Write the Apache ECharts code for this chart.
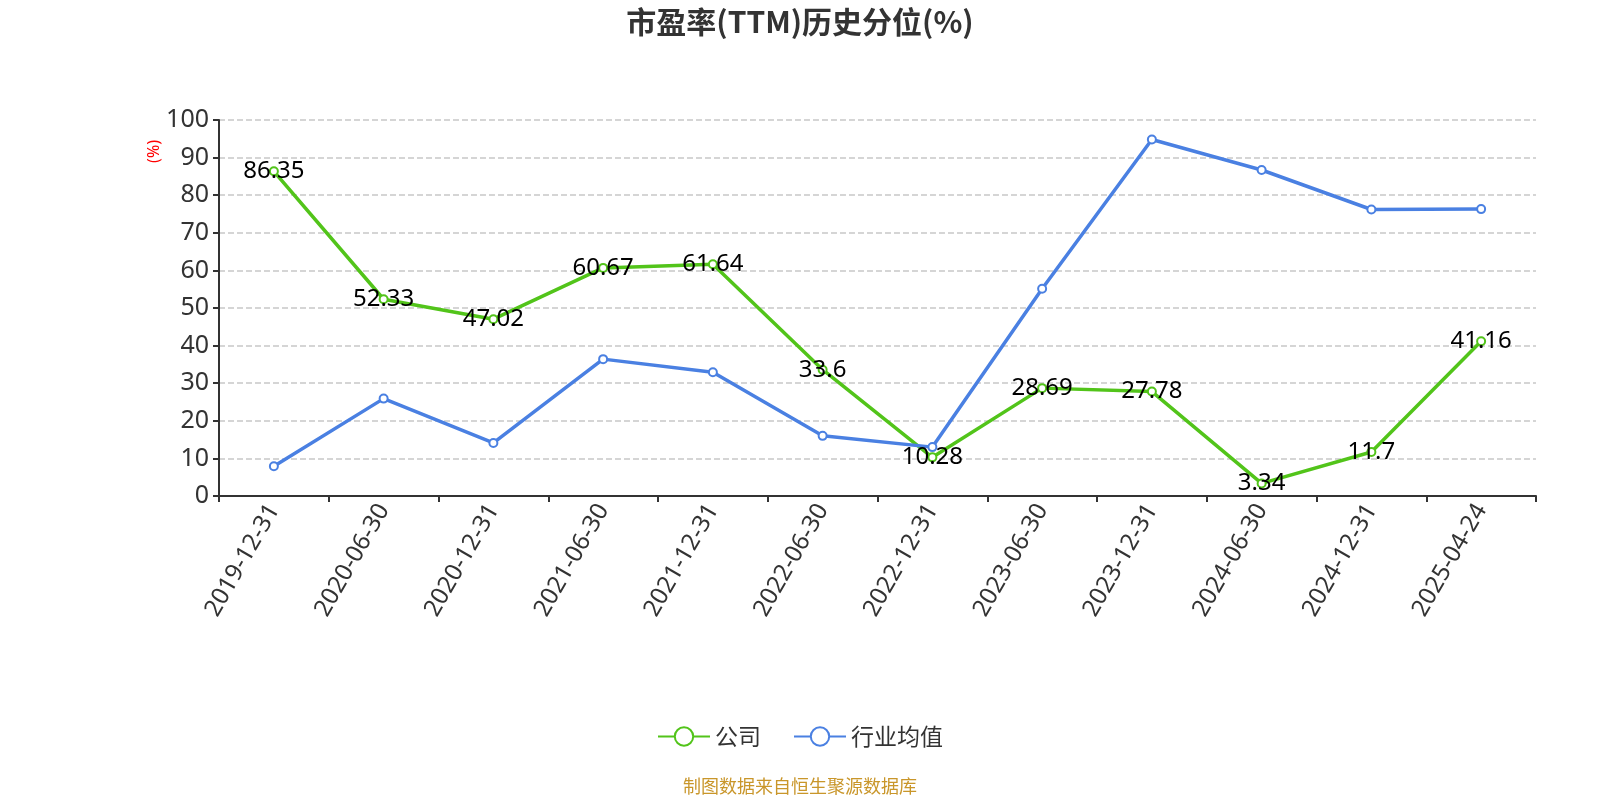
<!DOCTYPE html>
<html><head><meta charset="utf-8">
<script src="https://cdn.jsdelivr.net/npm/echarts@6/dist/echarts.min.js"></script>
<style>html,body{margin:0;padding:0;background:#fff}#c{width:1600px;height:800px}</style>
</head><body><div id="c"></div>
<script>
const categories = ['2019-12-31','2020-06-30','2020-12-31','2021-06-30','2021-12-31','2022-06-30','2022-12-31','2023-06-30','2023-12-31','2024-06-30','2024-12-31','2025-04-24'];
const companyValues = [86.35,52.33,47.02,60.67,61.64,33.6,10.28,28.69,27.78,3.34,11.7,41.16];
const industryValues = [7.9,25.9,14.1,36.4,32.9,16.0,13.0,55.1,94.8,86.7,76.2,76.3];
const yTicks = {min:0, max:100, interval:10};
const fontFam = '"Noto Sans","Noto Sans CJK SC",sans-serif';
const cjkFam = '"Noto Sans CJK SC","Noto Sans",sans-serif';

const chart = echarts.init(document.getElementById('c'));
chart.setOption({
  backgroundColor:'#fff',
  textStyle:{fontFamily:fontFam},
  title:{text:'市盈率(TTM)历史分位(%)', left:'center', top:2,
    textStyle:{fontSize:30, fontWeight:'bold', color:'#333', fontFamily:cjkFam}},
  graphic:[
    {type:'text', left:146, top:140, rotation:Math.PI/2,
      style:{text:'(%)', fill:'#ff0000', fontSize:16, fontFamily:fontFam}},
    {type:'text', left:'center', top:777,
      style:{text:'制图数据来自恒生聚源数据库', fill:'#c9962a', fontSize:18, fontFamily:cjkFam}}
  ],
  legend:{bottom:47, left:'center', itemWidth:52, itemHeight:23, itemGap:32,
    textStyle:{fontSize:23, color:'#333', fontFamily:cjkFam},
    data:['公司','行业均值']},
  grid:{left:219, right:64, top:120, bottom:304},
  xAxis:{type:'category', data:categories, boundaryGap:true,
    axisLine:{lineStyle:{color:'#333', width:2}},
    axisTick:{show:true, length:6, lineStyle:{color:'#333', width:2}},
    axisLabel:{rotate:60, fontSize:24, color:'#333', margin:10}},
  yAxis:{type:'value', min:yTicks.min, max:yTicks.max, interval:yTicks.interval,
    axisLine:{show:true, lineStyle:{color:'#333', width:2}},
    axisTick:{show:true, length:6, lineStyle:{color:'#333', width:2}},
    axisLabel:{fontSize:25, color:'#333', margin:10},
    splitLine:{lineStyle:{type:'dashed', color:'#c8c8c8', width:1.5}}},
  series:[
    {name:'公司', type:'line', data:companyValues, color:'#52c41a',
      symbol:'emptyCircle', symbolSize:8, lineStyle:{width:3.5},
      label:{show:true, position:'inside', fontSize:24, color:'#000'}},
    {name:'行业均值', type:'line', data:industryValues, color:'#4a80e2',
      symbol:'emptyCircle', symbolSize:8, lineStyle:{width:3.5}}
  ]
});
</script></body></html>
